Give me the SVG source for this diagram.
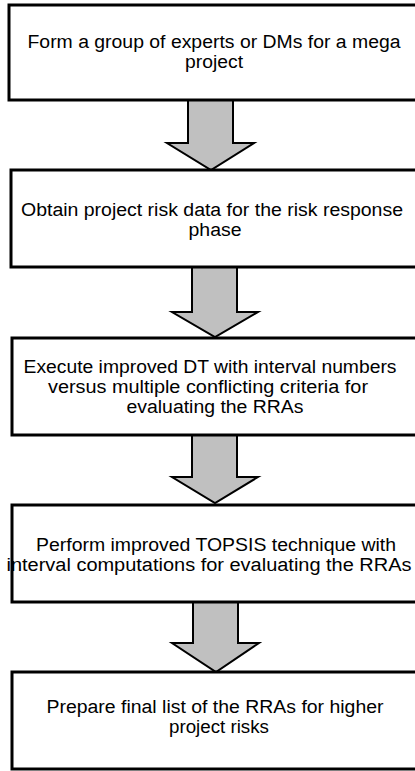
<svg xmlns="http://www.w3.org/2000/svg" width="415" height="771" viewBox="0 0 415 771">
<style>
.box{fill:#fff;stroke:#000;stroke-width:3}
.arr{fill:#c0c0c0;stroke:#000;stroke-width:2;stroke-linejoin:miter}
text{font-family:"Liberation Sans",Arial,sans-serif;font-size:18px;fill:#000;text-anchor:middle}
</style>
<rect width="415" height="771" fill="#fff"/>
<g id="connectors">
<path class="arr" d="M188,100 V143 H167 L211,170 L254,143 H233 V100 Z"/>
<path class="arr" d="M192,267 V312 H172 L215,337 L258,312 H237 V267 Z"/>
<path class="arr" d="M192,435 V477 H172 L215,503 L258,477 H237 V435 Z"/>
<path class="arr" d="M193,602 V643 H172 L216,672 L259,643 H238 V602 Z"/>
</g>
<g id="node1">
<rect class="box" x="9" y="5" width="420" height="95"/>
<text x="214" y="48" textLength="373" lengthAdjust="spacingAndGlyphs">Form a group of experts or DMs for a mega</text>
<text x="214" y="68" textLength="58" lengthAdjust="spacingAndGlyphs">project</text>
</g>
<g id="node2">
<rect class="box" x="11" y="170" width="420" height="97"/>
<text x="212" y="216" textLength="382" lengthAdjust="spacingAndGlyphs">Obtain project risk data for the risk response</text>
<text x="215" y="236" textLength="53" lengthAdjust="spacingAndGlyphs">phase</text>
</g>
<g id="node3">
<rect class="box" x="12" y="338" width="420" height="97"/>
<text x="210" y="373" textLength="373" lengthAdjust="spacingAndGlyphs">Execute improved DT with interval numbers</text>
<text x="208" y="393" textLength="320" lengthAdjust="spacingAndGlyphs">versus multiple conflicting criteria for</text>
<text x="215" y="413" textLength="177" lengthAdjust="spacingAndGlyphs">evaluating the RRAs</text>
</g>
<g id="node4">
<rect class="box" x="12" y="505" width="420" height="97"/>
<text x="216" y="551" textLength="360" lengthAdjust="spacingAndGlyphs">Perform improved TOPSIS technique with</text>
<text x="209" y="571" textLength="405" lengthAdjust="spacingAndGlyphs">interval computations for evaluating the RRAs</text>
</g>
<g id="node5">
<rect class="box" x="12" y="672" width="420" height="97"/>
<text x="215" y="713" textLength="337" lengthAdjust="spacingAndGlyphs">Prepare final list of the RRAs for higher</text>
<text x="219" y="733" textLength="100" lengthAdjust="spacingAndGlyphs">project risks</text>
</g>
</svg>
